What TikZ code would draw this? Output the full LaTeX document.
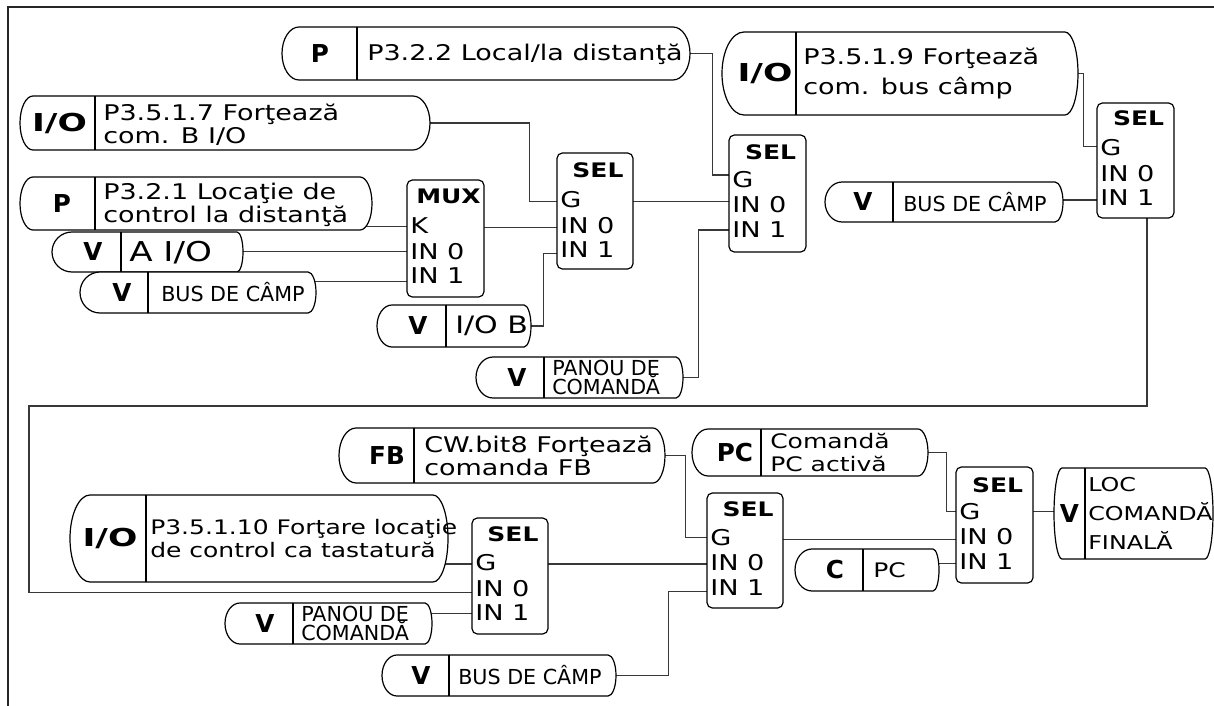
\documentclass[tikz,border=0pt]{standalone}
\usepackage{fontspec}
\setmainfont{DejaVu Sans}
\newfontfamily\widefont{DejaVu Sans}[FakeStretch=1.25]
\newfontfamily\iofont{DejaVu Sans}[FakeStretch=1.4]
\usetikzlibrary{fit}
\pgfdeclarelayer{bg}
\pgfsetlayers{bg,main}

\newcommand\txtmain{\widefont\fontsize{16.2}{17.25}\selectfont\lineskiplimit=-50pt\lineskip=0pt}
\newcommand\txtmid{\widefont\fontsize{15}{17.25}\selectfont\lineskiplimit=-50pt\lineskip=0pt}
\newcommand\txtwide{\widefont\fontsize{16.2}{22.5}\selectfont\lineskiplimit=-50pt\lineskip=0pt}
\newcommand\txtloc{\widefont\fontsize{14.3}{21.75}\selectfont\lineskiplimit=-50pt\lineskip=0pt}
\newcommand\txtbig{\widefont\fontsize{20.5}{22}\selectfont}
\newcommand\txtiob{\widefont\fontsize{18}{20}\selectfont}
\newcommand\txtsmall{\fontsize{15.5}{14.2}\selectfont\lineskiplimit=-50pt\lineskip=0pt}
\newcommand\txtlab{\bfseries\fontsize{18.5}{20}\selectfont}
\newcommand\txtio{\iofont\bfseries\fontsize{18.5}{20}\selectfont}
\newcommand\txttitle{\widefont\bfseries\fontsize{15}{17}\selectfont}
\newcommand\txtrow{\widefont\fontsize{16.3}{17}\selectfont}

\pgfkeys{/pill/.cd,
  rl/.store in=\pillrl, rr/.store in=\pillrr,
  tf/.store in=\pilltf, lf/.store in=\pilllf,
  tx/.store in=\pilltx, lx/.store in=\pilllx, ty/.store in=\pillty}

% #2 name, #3 x1, #4 y1, #5 x2, #6 y2, #7 divider x, #8 label, #9 text
\newcommand\pill[9][]{%
  \pgfkeys{/pill/.cd, rl=16, rr=10, tf=\txtmain, lf=\txtlab, tx=8, lx=0, ty=0, #1}%
  \coordinate (#2-nw) at (#3,#4);
  \coordinate (#2-se) at (#5,#6);
  \node[fit=(#2-nw)(#2-se), inner sep=0pt] (#2) {};
  \path[pilloutline] (#3+\pillrl,#4) -- (#5-\pillrr,#4)
    arc[start angle=-90, end angle=90, x radius=\pillrr, y radius={(#6-#4)/2}]
    -- (#3+\pillrl,#6)
    arc[start angle=90, end angle=270, x radius=\pillrl, y radius={(#6-#4)/2}]
    -- cycle;
  \draw[pilldiv] (#7,#4) -- (#7,#6);
  \node[font=\pilllf, inner sep=0pt] (#2-l) at (\pilllx,{(#4+#6)/2}) {#8};
  \node[font=\pilltf, align=left, anchor=west, inner sep=0pt] (#2-t)
    at (#7+\pilltx,{(#4+#6)/2+\pillty}) {#9};
}

% #1 first row, #2 name, #3 x1, #4 y1, #5 x2, #6 y2, #7 title, #8 title y, #9 first row y
\newcommand\selblock[9][G]{%
  \coordinate (#2-nw) at (#3,#4);
  \coordinate (#2-se) at (#5,#6);
  \node[blockbox, fit=(#2-nw)(#2-se)] (#2) {};
  \node[font=\txttitle, inner sep=0pt] (#2-title) at ({(#3+#5)/2+3},#8) {#7};
  \node[font=\txtrow, anchor=west, inner sep=0pt] (#2-r1) at (#3+3,#9) {#1};
  \node[font=\txtrow, anchor=west, inner sep=0pt] (#2-r2) at (#3+3,#9+25.5) {IN 0};
  \node[font=\txtrow, anchor=west, inner sep=0pt] (#2-r3) at (#3+3,#9+50) {IN 1};
}

\begin{document}
\begin{tikzpicture}[x=0.75pt,y=-0.75pt,
  pilloutline/.style={draw=black, line width=0.9pt, fill=white},
  pilldiv/.style={draw=black, line width=0.9pt},
  blockbox/.style={draw=black, line width=0.9pt, fill=white, rounded corners=4pt, inner sep=0pt},
  wire/.style={draw=black!78, line width=0.8pt},
  frameline/.style={draw=black!85, line width=1.1pt},
]
\useasboundingbox (0,0) rectangle (1214,706);

% frame
\draw[frameline] (1214,7) -- (8,7) -- (8,706);

% ---- upper half ----
\pill[rl=17, rr=17, lx=320, tx=10, ty=1]{p322}{282}{27}{690}{80}{357}{P}{P3.2.2 Local/la distanţă}
\pill[rl=13, rr=17, lx=59.5, lf=\txtio, ty=2]{io3517}{20}{96}{430}{150}{95}{I/O}{P3.5.1.7 Forţează\\com. B I/O}
\pill[rl=13, rr=12, lx=62, ty=1]{p321}{20}{177}{372}{230}{95}{P}{P3.2.1 Locaţie de\\control la distanţă}
\pill[rl=20, rr=6, lx=93, tf=\txtbig, ty=1]{vaio}{52}{232}{243}{272}{121}{V}{A I/O}
\pill[rl=20, rr=8, lx=122, tx=13, tf=\txtsmall]{vbus1}{80}{272}{316}{313}{148}{V}{BUS DE CÂMP}
\pill[rl=15, rr=7, lx=418, tx=9, tf=\txtiob]{viob}{377}{305}{531}{347}{446}{V}{I/O B}
\pill[rl=17, rr=7, lx=517, tf=\txtsmall]{vpan1}{476}{357}{683}{398}{544}{V}{PANOU DE\\COMANDĂ}
\pill[rl=22, rr=13, lx=765, tx=7, lf=\txtio, tf=\txtwide]{io3519}{722}{32}{1078}{115}{796}{I/O}{P3.5.1.9 Forţează\\com. bus câmp}
\pill[rl=17, rr=8, lx=863, tx=10, tf=\txtsmall]{vbus2}{825}{182}{1063}{222}{893}{V}{BUS DE CÂMP}

\selblock[K]{mux}{407}{180}{484}{297}{MUX}{196.5}{226}
\selblock{sel1}{557}{153}{633}{269}{SEL}{170}{200}
\selblock{sel2}{729}{135}{806}{252}{SEL}{152}{179.5}
\selblock{sel3}{1097}{103}{1174}{218}{SEL}{118.5}{148}

% ---- lower half ----
\pill[rl=17, rr=12, lx=387, tx=10]{fbcw}{339}{428}{665}{483}{414}{FB}{CW.bit8 Forţează\\comanda FB}
\pill[rl=16, rr=10, lx=735, tx=9, tf=\txtmid]{pcact}{692}{429}{928}{476}{761}{PC}{Comandă\\PC activă}
\pill[rl=20, rr=15, lx=110, tx=4, lf=\txtio, tf=\txtmid]{io35110}{70}{495}{448}{582}{146}{I/O}{P3.5.1.10 Forţare locaţie\\de control ca tastatură}
\pill[rl=15, rr=7, lx=265, tf=\txtsmall]{vpan2}{225}{603}{432}{644}{293}{V}{PANOU DE\\COMANDĂ}
\pill[rl=15, rr=8, lx=421, tx=9, tf=\txtsmall]{vbus3}{382}{655}{616}{696}{449}{V}{BUS DE CÂMP}
\pill[rl=17, rr=6, lx=835, tx=10, tf=\txtmid]{cpc}{795}{549}{939}{591}{863}{C}{PC}
\pill[rl=8, rr=8, lx=1069.5, tx=3, tf=\txtloc]{vloc}{1054}{468}{1213}{559}{1085}{V}{LOC\\COMANDĂ\\FINALĂ}

\selblock{sel4}{472}{518}{548}{634}{SEL}{534}{563}
\selblock{sel5}{707}{493}{783}{608}{SEL}{509}{537.5}
\selblock{sel6}{956}{467}{1033}{583}{SEL}{485}{511.5}

% ports
\coordinate (mux-k) at (407,226.7);
\coordinate (mux-in0) at (407,251.7);
\coordinate (mux-in1) at (407,281.7);
\coordinate (sel1-g) at (557,201.7);
\coordinate (sel1-in0) at (557,227.3);
\coordinate (sel1-in1) at (557,253.3);
\coordinate (sel2-g) at (729,175);
\coordinate (sel2-in0) at (729,201.7);
\coordinate (sel2-in1) at (729,230);
\coordinate (sel3-g) at (1097,146.7);
\coordinate (sel3-in1) at (1097,200);
\coordinate (sel3-out) at (1147,218);
\coordinate (loopL) at (29,406);
\coordinate (sel4-g) at (472,564);
\coordinate (sel4-in0) at (472,592.5);
\coordinate (sel4-in1) at (472,613.3);
\coordinate (sel5-g) at (707,537.7);
\coordinate (sel5-in0) at (707,564);
\coordinate (sel5-in1) at (707,591.7);
\coordinate (sel6-g) at (956,511.7);
\coordinate (sel6-in0) at (956,539.3);
\coordinate (sel6-in1) at (956,563.3);

\begin{pgfonlayer}{bg}
\draw[wire] (p322.east) -- ++(22,0) |- (sel2-g);
\draw[wire] (io3517.east) -- ++(99,0) |- (sel1-g);
\draw[wire] (p321.center |- mux-k) -- (mux-k);
\draw[wire] (vaio.center |- mux-in0) -- (mux-in0);
\draw[wire] (vbus1.center |- mux-in1) -- (mux-in1);
\draw[wire] (mux.center |- sel1-in0) -- (sel1-in0);
\draw[wire] (viob.east) -- ++(12,0) |- (sel1-in1);
\draw[wire] (vpan1.east) -- ++(15,0) |- (sel2-in1);
\draw[wire] (sel1.center |- sel2-in0) -- (sel2-in0);
\draw[wire] (io3519.east) -- ++(5,0) |- (sel3-g);
\draw[wire] (vbus2.center |- sel3-in1) -- (sel3-in1);
\draw[wire] (sel3-out) |- (loopL) |- (sel4-in0);
\draw[wire] (io35110.center |- sel4-g) -- (sel4-g);
\draw[wire] (vpan2.center |- sel4-in1) -- (sel4-in1);
\draw[wire] (sel4.center |- sel5-in0) -- (sel5-in0);
\draw[wire] (fbcw.east) -- ++(20,0) |- (sel5-g);
\draw[wire] (vbus3.east) -- ++(52,0) |- (sel5-in1);
\draw[wire] (pcact.east) -- ++(18.5,0) |- (sel6-g);
\draw[wire] (sel5.center |- sel6-in0) -- (sel6-in0);
\draw[wire] (cpc.center |- sel6-in1) -- (sel6-in1);
\draw[wire] (sel6.center |- sel6-g) -- (vloc.center |- sel6-g);
\end{pgfonlayer}
\end{tikzpicture}
\end{document}
